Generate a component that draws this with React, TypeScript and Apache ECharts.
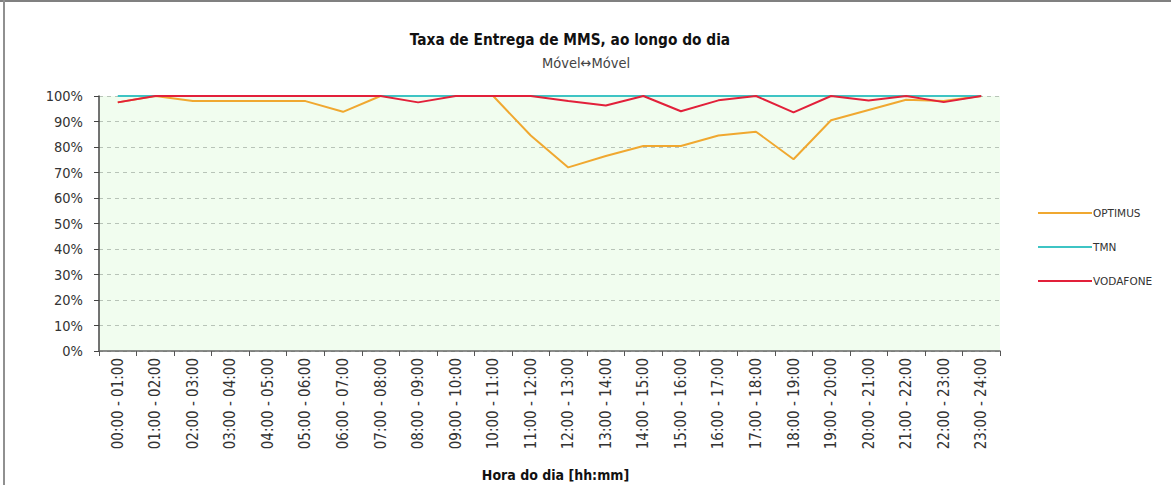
import React, { useEffect, useRef } from "react";
import * as echarts from "echarts";

const categories = [
  "00:00 - 01:00", "01:00 - 02:00", "02:00 - 03:00", "03:00 - 04:00",
  "04:00 - 05:00", "05:00 - 06:00", "06:00 - 07:00", "07:00 - 08:00",
  "08:00 - 09:00", "09:00 - 10:00", "10:00 - 11:00", "11:00 - 12:00",
  "12:00 - 13:00", "13:00 - 14:00", "14:00 - 15:00", "15:00 - 16:00",
  "16:00 - 17:00", "17:00 - 18:00", "18:00 - 19:00", "19:00 - 20:00",
  "20:00 - 21:00", "21:00 - 22:00", "22:00 - 23:00", "23:00 - 24:00",
];

const optimus = [97.5, 100, 98, 98, 98, 98, 93.8, 100, 100, 100, 100, 84.5,
  72, 76.5, 80.4, 80.4, 84.5, 86, 75.2, 90.5, 94.5, 98.5, 98, 100];
const tmn = [100, 100, 100, 100, 100, 100, 100, 100, 100, 100, 100, 100,
  100, 100, 100, 100, 100, 100, 100, 100, 100, 100, 100, 100];
const vodafone = [97.5, 100, 100, 100, 100, 100, 100, 100, 97.5, 100, 100, 100,
  98, 96.3, 100, 94, 98.3, 100, 93.6, 100, 98.2, 100, 97.6, 100];

const seriesNames = ["OPTIMUS", "TMN", "VODAFONE"];

const FONT = "'DejaVu Sans Condensed', 'Liberation Sans Narrow', 'Arial Narrow', sans-serif";

export default function App() {
  const ref = useRef<HTMLDivElement>(null);
  useEffect(() => {
    if (!ref.current) return;
    const chart = echarts.init(ref.current, undefined, { renderer: "svg" });
    chart.setOption({
      animation: false,
      backgroundColor: "#ffffff",
      textStyle: { fontFamily: FONT },
      title: [
        {
          text: "Taxa de Entrega de MMS, ao longo do dia",
          left: 565,
          top: 27,
          textAlign: "center",
          textStyle: { fontFamily: FONT, fontSize: 15.3, fontWeight: "bold", color: "#111" },
        },
        {
          text: "Móvel\u2194Móvel",
          left: 581,
          top: 50,
          textAlign: "center",
          textStyle: { fontFamily: FONT, fontSize: 14.5, fontWeight: "normal", color: "#444" },
        },
      ],
      legend: {
        orient: "vertical",
        left: 1033,
        top: 202,
        icon: "rect",
        itemWidth: 54,
        itemHeight: 2,
        itemGap: 22,
        textStyle: { fontFamily: "'DejaVu Sans', sans-serif", fontSize: 10.5, color: "#333", lineHeight: 12, padding: [0, 0, 0, -4] },
        data: seriesNames,
      },
      grid: { left: 99, right: 171, top: 96, bottom: 134, containLabel: false,
        outerBoundsMode: "none",
        show: true, backgroundColor: "#f1fdef", borderWidth: 0 },
      xAxis: {
        type: "category",
        data: categories,
        boundaryGap: true,
        name: "Hora do dia [hh:mm]",
        nameLocation: "middle",
        nameGap: 117,
        nameTextStyle: { fontFamily: FONT, fontSize: 14, fontWeight: "bold", color: "#111", padding: [0, 0, 0, 12] },
        axisLine: { lineStyle: { color: "#666", width: 1.5 } },
        axisTick: { show: true, alignWithLabel: false, length: 5, lineStyle: { color: "#555" } },
        axisLabel: { rotate: 90, interval: 0, fontSize: 15, color: "#333", margin: 7, fontFamily: FONT },
        splitLine: { show: false },
      },
      yAxis: {
        type: "value",
        min: 0,
        max: 100,
        interval: 10,
        axisLine: { show: true, lineStyle: { color: "#444", width: 1.5 } },
        axisTick: { show: true, length: 5, lineStyle: { color: "#444" } },
        axisLabel: { formatter: "{value}%", fontSize: 14.5, color: "#333", margin: 16, fontFamily: FONT },
        splitLine: { show: true, lineStyle: { color: "#b8c4b8", type: [4, 4], width: 1 } },
      },
      series: [
        { name: seriesNames[0], type: "line", data: optimus, symbol: "none", showSymbol: false,
          lineStyle: { color: "#f0a830", width: 2 }, itemStyle: { color: "#f0a830" } },
        { name: seriesNames[1], type: "line", data: tmn, symbol: "none", showSymbol: false,
          lineStyle: { color: "#3ec4c4", width: 2 }, itemStyle: { color: "#3ec4c4" } },
        { name: seriesNames[2], type: "line", data: vodafone, symbol: "none", showSymbol: false,
          lineStyle: { color: "#e2203a", width: 2 }, itemStyle: { color: "#e2203a" } },
      ],
      graphic: [
        { type: "rect", shape: { x: 0, y: 0, width: 1171, height: 2 }, style: { fill: "#808080" }, silent: true },
        { type: "rect", shape: { x: 3, y: 0, width: 2, height: 485 }, style: { fill: "#909090" }, silent: true },
      ],
    });
    return () => chart.dispose();
  }, []);
  return (
    <div
      ref={ref}
      style={{ position: "fixed", left: 0, top: 0, width: 1171, height: 485 }}
    />
  );
}
